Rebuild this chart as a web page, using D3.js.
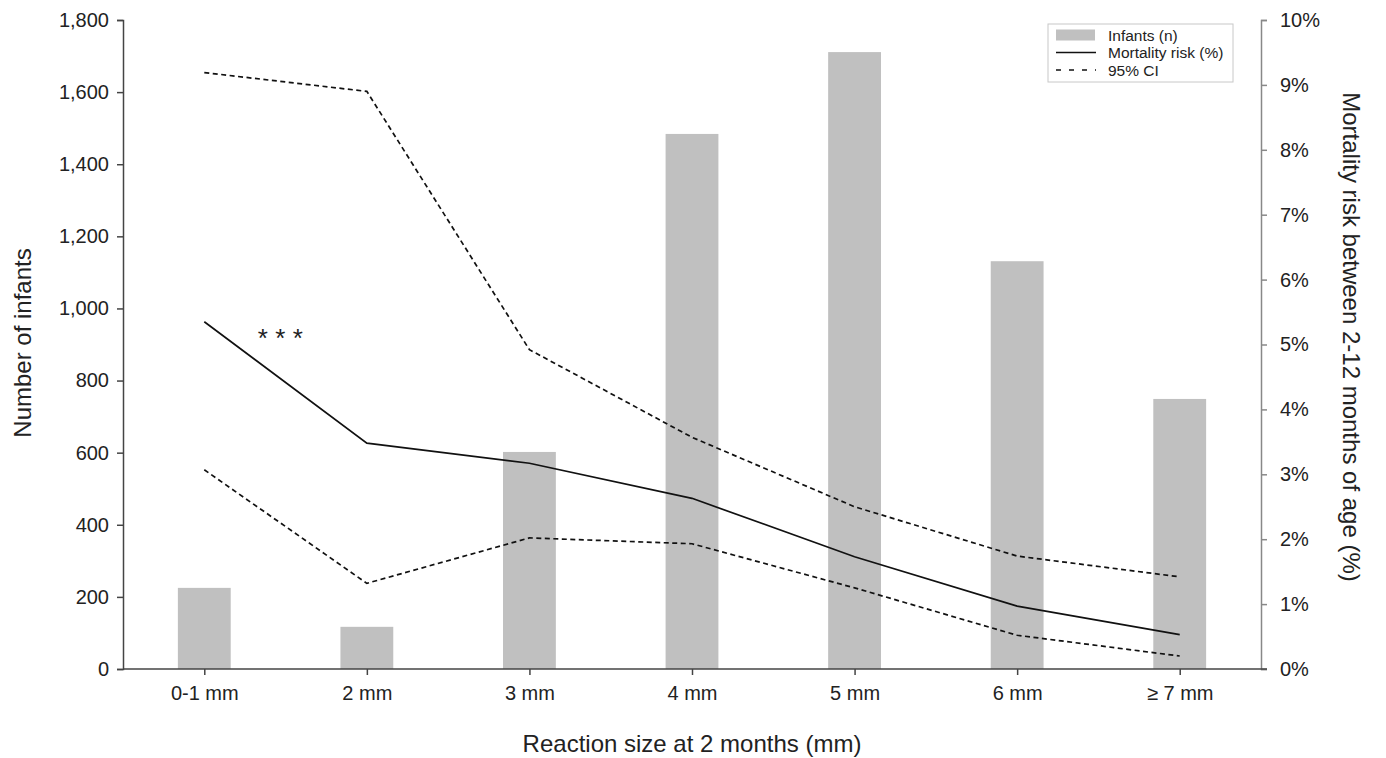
<!DOCTYPE html>
<html>
<head>
<meta charset="utf-8">
<script src="https://cdn.jsdelivr.net/npm/d3@7"></script>
<style>
  body { margin: 0; background: #fff; }
  svg text { font-family: "Liberation Sans", Arial, sans-serif; fill: #222; }
</style>
</head>
<body>
<div id="chart"></div>
<script>
////////////////////////////////////////////////////////////////////////
// Data

let categories = ["0-1 mm", "2 mm", "3 mm", "4 mm", "5 mm", "6 mm", "\u2265 7 mm"];

// number of infants per reaction size (left axis)
let infants = [225, 117, 602, 1484, 1711, 1131, 749];

// mortality risk between 2-12 months, percent (right axis)
let mortality = [5.35, 3.48, 3.17, 2.63, 1.73, 0.97, 0.53];
let ciUpper = [9.19, 8.90, 4.92, 3.57, 2.50, 1.74, 1.42];
let ciLower = [3.07, 1.32, 2.02, 1.93, 1.25, 0.52, 0.20];

let leftTicks = [0, 200, 400, 600, 800, 1000, 1200, 1400, 1600, 1800];
let rightTicks = [0, 1, 2, 3, 4, 5, 6, 7, 8, 9, 10];

////////////////////////////////////////////////////////////////////////
// svg + scales

let width = 1386;
let height = 758;
// plot edges (top/left names clash with window globals)
let plotLeft = 123, plotRight = 1261, plotTop = 20, plotBottom = 669;

let svg = d3.select("#chart")
  .append("svg")
  .attr("width", width).attr("height", height);

let xScale = d3.scalePoint()
  .domain(categories)
  .range([plotLeft, plotRight])
  .padding(0.5);

let barWidth = xScale.step() * 0.325;

let yLeft = d3.scaleLinear().domain([0, 1800]).range([plotBottom, plotTop]);
let yRight = d3.scaleLinear().domain([0, 10]).range([plotBottom, plotTop]);

////////////////////////////////////////////////////////////////////////
// bars

svg.append("g")
  .selectAll(".bar")
  .data(infants)
  .enter()
  .append("rect")
  .attr("class", "bar")
  .attr("x", function(d, i) { return xScale(categories[i]) - barWidth / 2; })
  .attr("width", barWidth)
  .attr("y", function(d) { return yLeft(d); })
  .attr("height", function(d) { return plotBottom - yLeft(d); })
  .style("fill", "#c0c0c0");

////////////////////////////////////////////////////////////////////////
// lines

let line = d3.line()
  .x(function(d, i) { return xScale(categories[i]); })
  .y(function(d) { return yRight(d); });

[ciUpper, ciLower].forEach(function(series) {
  svg.append("path")
    .datum(series)
    .attr("d", line)
    .style("fill", "none")
    .style("stroke", "#111")
    .style("stroke-width", 1.7)
    .style("stroke-dasharray", "5,3.5");
});

svg.append("path")
  .datum(mortality)
  .attr("d", line)
  .style("fill", "none")
  .style("stroke", "#111")
  .style("stroke-width", 1.7);

// significance marker next to the first point
svg.append("text")
  .attr("x", 284)
  .attr("y", 347)
  .style("text-anchor", "middle")
  .style("font-size", "26px")
  .style("letter-spacing", "7.4px")
  .text("***");

////////////////////////////////////////////////////////////////////////
// axes

let axisLeft = svg.append("g")
  .attr("transform", "translate(" + plotLeft + ",0)")
  .call(d3.axisLeft(yLeft).tickValues(leftTicks).tickFormat(d3.format(",")).tickSize(6).tickPadding(8));
axisLeft.selectAll("path, line").style("stroke", "#444").style("stroke-width", 1.5);
axisLeft.selectAll("text").style("font-size", "20px").style("fill", "#222");

let axisRight = svg.append("g")
  .attr("transform", "translate(" + plotRight + ",0)")
  .call(d3.axisRight(yRight).tickValues(rightTicks).tickFormat(function(d) { return d + "%"; }).tickSize(6).tickPadding(13));
axisRight.selectAll("path, line").style("stroke", "#888").style("stroke-width", 1.5);
axisRight.selectAll("text").style("font-size", "20px").style("fill", "#222");

let axisBottom = svg.append("g")
  .attr("transform", "translate(0," + plotBottom + ")")
  .call(d3.axisBottom(xScale).tickSize(6).tickPadding(11).tickSizeOuter(0));
axisBottom.select(".domain").attr("d", "M" + plotLeft + ",0H" + (plotRight + 6));
axisBottom.selectAll("path, line").style("stroke", "#444").style("stroke-width", 1.5);
axisBottom.selectAll("text").style("font-size", "20px").style("fill", "#222");

// axis titles
svg.append("text")
  .attr("transform", "translate(31,343) rotate(-90)")
  .style("text-anchor", "middle")
  .style("font-size", "24px")
  .text("Number of infants");

svg.append("text")
  .attr("transform", "translate(1343,337) rotate(90)")
  .style("text-anchor", "middle")
  .style("font-size", "24px")
  .text("Mortality risk between 2-12 months of age (%)");

svg.append("text")
  .attr("x", 692)
  .attr("y", 752)
  .style("text-anchor", "middle")
  .style("font-size", "24px")
  .text("Reaction size at 2 months (mm)");

////////////////////////////////////////////////////////////////////////
// legend

let legend = svg.append("g").attr("transform", "translate(1048,24)");
legend.append("rect")
  .attr("width", 185).attr("height", 58)
  .style("fill", "#fff")
  .style("stroke", "#c8c8c8");

let legendItems = ["Infants (n)", "Mortality risk (%)", "95% CI"];
legendItems.forEach(function(label, i) {
  let cy = 11 + i * 17.5;
  if (i === 0) {
    legend.append("rect")
      .attr("x", 8).attr("y", cy - 5.5).attr("width", 39).attr("height", 11)
      .style("fill", "#c0c0c0");
  } else {
    legend.append("line")
      .attr("x1", 8).attr("x2", 48).attr("y1", cy).attr("y2", cy)
      .style("stroke", "#111").style("stroke-width", 1.7)
      .style("stroke-dasharray", i === 2 ? "5,8" : null);
  }
  legend.append("text")
    .attr("x", 60)
    .attr("y", cy + 5.5)
    .style("font-size", "15.5px")
    .text(label);
});
</script>
</body>
</html>
